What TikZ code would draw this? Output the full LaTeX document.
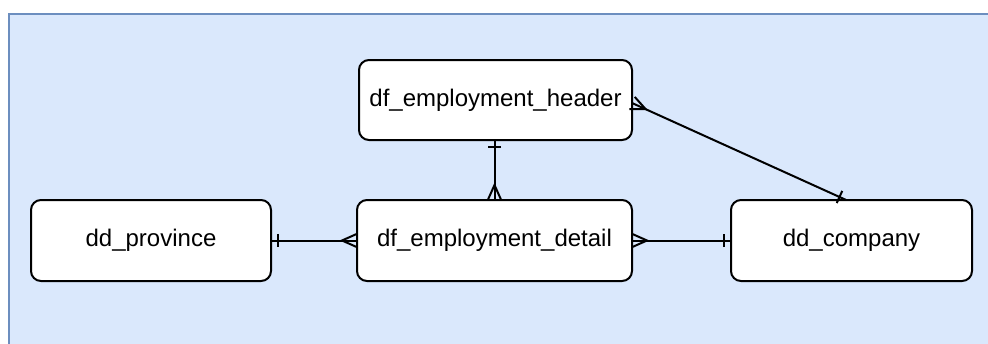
\documentclass[tikz,border=0pt]{standalone}
\usepackage{fontspec}
\setmainfont{Liberation Sans}
\usetikzlibrary{calc}
\definecolor{panelfill}{HTML}{DAE8FC}
\definecolor{paneldraw}{HTML}{6C8EBF}
\newcommand\crowfoot[2]{%
  \coordinate (cftip) at ($(#1)!11.25pt!(#2)$);
  \draw[conn] ($(#1)!5pt!90:(#2)$) -- (cftip) -- ($(#1)!5pt!-90:(#2)$);
}
\newcommand\onetick[2]{%
  \coordinate (otp) at ($(#1)!5.5pt!(#2)$);
  \draw[conn] ($(otp)!5pt!90:(#2)$) -- ($(otp)!5pt!-90:(#2)$);
}
\begin{document}
\begin{tikzpicture}[x=0.75pt,y=-0.75pt,
  entity/.style={draw=black,fill=white,line width=1.5pt,rounded corners=7.5pt,
    inner sep=0pt,outer sep=0pt,font=\fontsize{18}{21}\selectfont,text=black},
  conn/.style={draw=black,line width=1.5pt}]
\useasboundingbox (0,0) rectangle (988,343);
\clip (0,0) rectangle (988,343);
\fill[white] (0,0) rectangle (988,343);
\draw[fill=panelfill,draw=paneldraw,line width=1.5pt] (9,14) rectangle (1010,370);

\node[entity,minimum width=204.75pt,minimum height=60pt] (header) at (495.5,100) {df\_employment\_header};
\node[entity,minimum width=206.25pt,minimum height=60.75pt] (detail) at (494.5,240.5) {df\_employment\_detail};
\node[entity,minimum width=180pt,minimum height=60.75pt] (province) at (151,240.5) {dd\_province};
\node[entity,minimum width=180.75pt,minimum height=60.75pt] (company) at (851.5,240.5) {dd\_company};

\coordinate (hs) at ([xshift=-0.75pt]header.south);
\coordinate (dn) at (detail.north);
\draw[conn] (hs) -- (dn);
\onetick{hs}{dn}
\crowfoot{dn}{hs}

\coordinate (dw) at (detail.west);
\coordinate (pe) at (province.east);
\draw[conn] (dw) -- (pe);
\crowfoot{dw}{pe}
\onetick{pe}{dw}

\coordinate (de) at (detail.east);
\coordinate (cw) at (company.west);
\draw[conn] (de) -- (cw);
\crowfoot{de}{cw}
\onetick{cw}{de}

\coordinate (he) at ([yshift=-2.25pt]header.east);
\coordinate (cn) at ([xshift=-4pt]company.north);
\draw[conn] (he) -- (cn);
\crowfoot{he}{cn}
\onetick{cn}{he}
\end{tikzpicture}
\end{document}
